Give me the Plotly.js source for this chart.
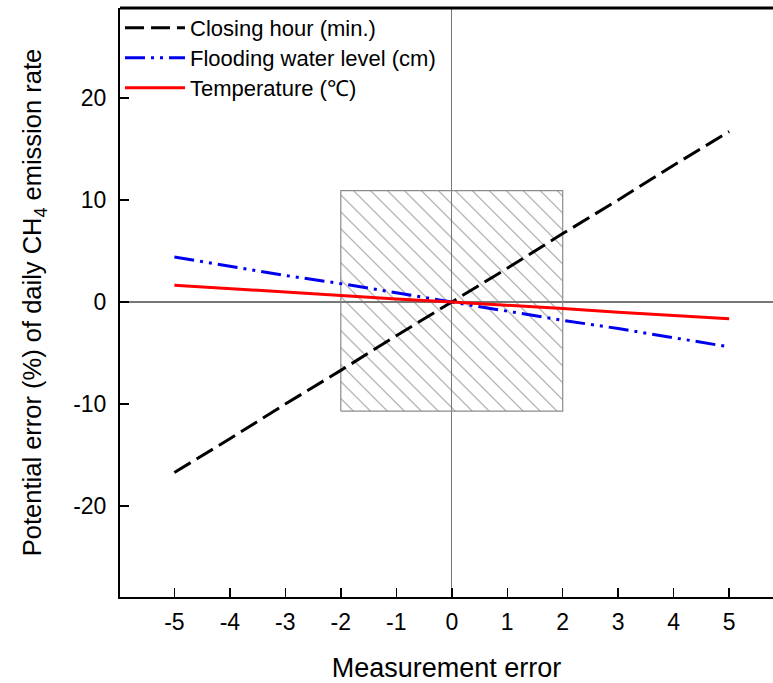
<!DOCTYPE html>
<html>
<head>
<meta charset="utf-8">
<script src="https://cdn.plot.ly/plotly-3.0.1.min.js"></script>
<style>html,body{margin:0;padding:0;background:#fff;}#chart{width:773px;height:683px;}</style>
</head>
<body>
<div id="chart"></div>
<script>
// Data
const measurementError = [-5, -4, -3, -2, -1, 0, 1, 2, 3, 4, 5];
const closingHour = [-16.7, -13.4, -10.0, -6.7, -3.3, 0, 3.3, 6.7, 10.0, 13.4, 16.7];
const floodingWaterLevel = [4.4, 3.5, 2.6, 1.8, 0.9, 0, -0.9, -1.8, -2.6, -3.5, -4.4];
const temperature = [1.65, 1.3, 1.0, 0.65, 0.3, 0, -0.3, -0.65, -1.0, -1.3, -1.65];
const seriesNames = ["Closing hour (min.)", "Flooding water level (cm)", "Temperature (℃)"];
const boxX = [-2, 2, 2, -2, -2];
const boxY = [-10.7, -10.7, 10.9, 10.9, -10.7];
const xTicks = [-5, -4, -3, -2, -1, 0, 1, 2, 3, 4, 5];
const yTicks = [-20, -10, 0, 10, 20];

const FONT = "Liberation Sans, Arial, sans-serif";

const traces = [
  {
    x: boxX, y: boxY, type: "scatter", mode: "lines", fill: "toself",
    fillcolor: "rgba(0,0,0,0)",
    fillpattern: {shape: "\\", fgcolor: "#6e6e6e", bgcolor: "rgba(255,255,255,0)", size: 12, solidity: 0.08},
    line: {color: "#8c8c8c", width: 1.2}, showlegend: false, hoverinfo: "skip"
  },
  {
    x: measurementError, y: closingHour, type: "scatter", mode: "lines", name: seriesNames[0],
    legend: "legend",
    line: {color: "#000000", width: 3, dash: "19px,7px"}
  },
  {
    x: measurementError, y: floodingWaterLevel, type: "scatter", mode: "lines", name: seriesNames[1],
    legend: "legend2",
    line: {color: "#0000ee", width: 3, dash: "20px,6px,3px,6px,3px,6px"}
  },
  {
    x: measurementError, y: temperature, type: "scatter", mode: "lines", name: seriesNames[2],
    legend: "legend3",
    line: {color: "#ff0000", width: 3}
  }
];

function legendAt(yPaper) {
  return {
    x: 0, y: yPaper, xanchor: "left", yanchor: "top",
    bgcolor: "rgba(0,0,0,0)", borderwidth: 0,
    font: {family: FONT, size: 22, color: "#000"},
    itemwidth: 60, tracegroupgap: 0
  };
}

const layout = {
  width: 773, height: 683,
  margin: {l: 120, r: 0, t: 8, b: 86, pad: 0},
  paper_bgcolor: "#ffffff", plot_bgcolor: "#ffffff",
  font: {family: FONT, size: 21, color: "#000"},
  showlegend: true,
  legend: legendAt(1.0017),
  legend2: legendAt(0.9508),
  legend3: legendAt(0.8998),
  xaxis: {
    range: [-5.98, 5.79], tickvals: xTicks, ticktext: xTicks.map(String),
    ticks: "inside", ticklen: 9, tickwidth: 1.5, tickcolor: "#000",
    showline: true, linecolor: "#000", linewidth: 2,
    showgrid: false, zeroline: true, zerolinecolor: "#777", zerolinewidth: 1.3,
    ticklabelstandoff: 3,
    tickfont: {family: FONT, size: 23, color: "#000"},
    title: {text: "Measurement error", font: {family: FONT, size: 27, color: "#000"}, standoff: 28},
    automargin: false
  },
  yaxis: {
    range: [-28.9, 28.8], tickvals: yTicks, ticktext: yTicks.map(String),
    ticks: "inside", ticklen: 9, tickwidth: 1.5, tickcolor: "#000",
    showline: true, linecolor: "#000", linewidth: 2,
    showgrid: false, zeroline: true, zerolinecolor: "#777", zerolinewidth: 1.3,
    ticklabelstandoff: 7,
    tickfont: {family: FONT, size: 23, color: "#000"},
    title: {text: "Potential error (%) of daily CH<sub>4</sub> emission rate", font: {family: FONT, size: 25.5, color: "#000"}, standoff: 24},
    automargin: false
  },
  shapes: [
    {type: "line", xref: "paper", yref: "paper", x0: 0, x1: 1, y0: 1, y1: 1, line: {color: "#000", width: 3}}
  ]
};

Plotly.newPlot("chart", traces, layout, {displayModeBar: false, staticPlot: true});
</script>
</body>
</html>
